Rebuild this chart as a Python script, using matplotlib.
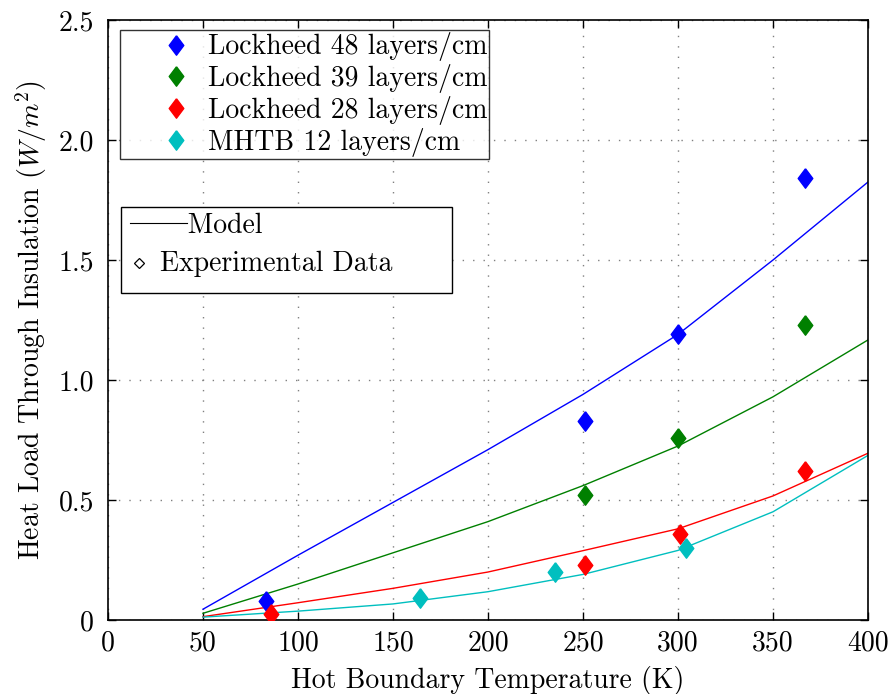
import numpy as np
import matplotlib
matplotlib.use("Agg")
import matplotlib.pyplot as plt
from matplotlib.lines import Line2D
from matplotlib.patches import Rectangle
from matplotlib.legend_handler import HandlerBase

plt.rcParams['font.family'] = ['cmr10', 'DejaVu Serif']
plt.rcParams['mathtext.fontset'] = 'cm'
plt.rcParams['axes.formatter.use_mathtext'] = True
plt.rcParams['axes.unicode_minus'] = False

# experimental data
lh48_T = [83, 251, 300, 367]
lh48_q = [0.08, 0.83, 1.19, 1.84]
lh39_T = [251, 300, 367]
lh39_q = [0.52, 0.76, 1.23]
lh28_T = [86, 251, 301, 367]
lh28_q = [0.025, 0.23, 0.36, 0.62]
mhtb_T = [164, 235, 304]
mhtb_q = [0.09, 0.20, 0.30]

# model curves
model_T = [50, 100, 150, 200, 250, 300, 350, 400]
model_48 = [0.045, 0.27, 0.49, 0.71, 0.94, 1.19, 1.50, 1.825]
model_39 = [0.028, 0.15, 0.28, 0.41, 0.56, 0.725, 0.93, 1.167]
model_28 = [0.014, 0.072, 0.132, 0.20, 0.289, 0.38, 0.517, 0.695]
model_12 = [0.012, 0.037, 0.067, 0.118, 0.19, 0.29, 0.451, 0.686]

xticks = [0, 50, 100, 150, 200, 250, 300, 350, 400]
yticks = [0, 0.5, 1.0, 1.5, 2.0, 2.5]
yticklabels = ['0', '0.5', '1.0', '1.5', '2.0', '2.5']

diamond = [(0, 1), (0.75, 0), (0, -1), (-0.75, 0), (0, 1)]
FS = 20


class ModelLineHandler(HandlerBase):
    # long line handle that runs into the label's leading spaces
    def create_artists(self, legend, orig_handle, xdescent, ydescent,
                       width, height, fontsize, trans):
        y = height / 2 - ydescent
        line = Line2D([-xdescent + 2.5, -xdescent + 43.5], [y, y],
                      color=orig_handle.get_color(),
                      lw=orig_handle.get_linewidth())
        line.set_transform(trans)
        return [line]


fig = plt.figure(figsize=(8.91, 6.94), dpi=100)
ax = fig.add_axes([0.1212, 0.1066, 0.8530, 0.8646])

series = [
    (lh48_T, lh48_q, model_48, '#0000ff', 'Lockheed 48 layers/cm'),
    (lh39_T, lh39_q, model_39, '#008000', 'Lockheed 39 layers/cm'),
    (lh28_T, lh28_q, model_28, '#ff0000', 'Lockheed 28 layers/cm'),
    (mhtb_T, mhtb_q, model_12, '#00bfbf', 'MHTB 12 layers/cm'),
]

pts = []
for T, q, model, col, lab in series:
    ax.plot(model_T, model, color=col, lw=1.0)
    p, = ax.plot(T, q, linestyle='none', marker=diamond, ms=14,
                 color=col, mec=col, label=lab, zorder=5)
    pts.append(p)

ax.set_xlim(0, 400)
ax.set_ylim(0, 2.5)
ax.set_xticks(xticks)
ax.set_xticklabels([str(t) for t in xticks])
ax.set_yticks(yticks)
ax.set_yticklabels(yticklabels)
ax.tick_params(direction='in', top=True, right=True, labelsize=FS, length=6,
               width=1)
ax.tick_params(axis='x', pad=7)
ax.tick_params(axis='y', pad=10)
for s in ax.spines.values():
    s.set_linewidth(1.2)
ax.grid(True, color='gray', linestyle=(0, (1, 6.5)), lw=1)

ax.set_xlabel('Hot Boundary Temperature (K)', fontsize=FS, labelpad=7)
ax.set_ylabel('Heat Load Through Insulation ($W/m^2$)', fontsize=FS, labelpad=7)

leg1 = ax.legend(handles=pts, loc='upper left', bbox_to_anchor=(0.0158, 0.983),
                 fontsize=FS, frameon=True, fancybox=False, edgecolor='black',
                 handlelength=3.89, handletextpad=-0.81, borderpad=0.08,
                 labelspacing=0.1, borderaxespad=0)
leg1.get_frame().set_linewidth(1.0)
ax.add_artist(leg1)

# second legend: frame drawn as a box, entries without frame
ax.add_patch(Rectangle((0.0171, 0.545), 0.4355, 0.143, transform=ax.transAxes,
                       facecolor='white', edgecolor='black', lw=1.0, zorder=6))
h_model = Line2D([], [], color='black', lw=0.8)
h_exp = Line2D([], [], linestyle='none', marker='D', ms=5, mfc='white',
               mec='black', mew=0.9)
leg2 = ax.legend(handles=[h_model, h_exp],
                 labels=['   Model', 'Experimental Data'],
                 handler_map={h_model: ModelLineHandler()},
                 loc='upper left', bbox_to_anchor=(0.0171, 0.688),
                 fontsize=FS, frameon=False,
                 handlelength=0.89, handletextpad=0.31, borderpad=0.2,
                 labelspacing=0.4, borderaxespad=0, handleheight=0.2)
leg2.set_zorder(7)

fig.savefig('out.png', dpi=100)
